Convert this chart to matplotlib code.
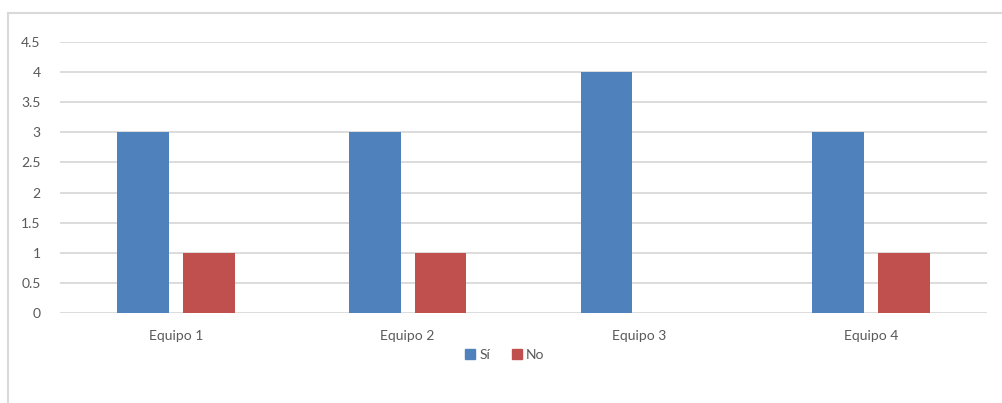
import matplotlib
matplotlib.use('Agg')
import matplotlib.pyplot as plt
from matplotlib.lines import Line2D
from matplotlib.patches import Patch
import numpy as np

categories = ['Equipo 1', 'Equipo 2', 'Equipo 3', 'Equipo 4']
si_values = [3, 3, 4, 3]
no_values = [1, 1, 0, 1]
yticks = [0, 0.5, 1, 1.5, 2, 2.5, 3, 3.5, 4, 4.5]
ytick_labels = ['0', '0.5', '1', '1.5', '2', '2.5', '3', '3.5', '4', '4.5']

blue = '#4F81BD'
red = '#C0504D'
grid = '#D9D9D9'
text = '#595959'

plt.rcParams['font.family'] = ['Lato', 'DejaVu Sans']

W, H = 1003, 403
fig = plt.figure(figsize=(W / 100, H / 100), dpi=100)
ax = fig.add_axes([60 / W, 90 / H, 927 / W, 271 / H])

x = np.arange(len(categories))
width = 0.224
ax.bar(x - 0.142, si_values, width, color=blue, label='Sí')
ax.bar(x + 0.142, no_values, width, color=red, label='No')

ax.set_xlim(-0.5, len(categories) - 0.5)
ax.set_ylim(0, 4.5)
ax.set_yticks(yticks)
ax.set_yticklabels(ytick_labels)
ax.set_xticks(x)
ax.set_xticklabels(categories)
ax.tick_params(length=0, labelsize=10, colors=text)
ax.tick_params(axis='y', pad=14)
ax.tick_params(axis='x', pad=12)
ax.yaxis.grid(True, color=grid, linewidth=1.3)
ax.set_axisbelow(True)
for s in ax.spines.values():
    s.set_visible(False)

# chart-area border (left and top edges visible)
fig.add_artist(Line2D([8 / W, 8 / W], [0, 1 - 13 / H], color=grid, linewidth=1.5))
fig.add_artist(Line2D([8 / W, 1], [1 - 13 / H, 1 - 13 / H], color=grid, linewidth=1.5))

handles = [Patch(color=blue), Patch(color=red)]
fig.legend(handles, ['Sí', 'No'], loc='center', bbox_to_anchor=(505 / W, 1 - 355 / H),
           ncol=2, frameon=False, fontsize=10, labelcolor=text,
           handlelength=0.7, handleheight=0.7, handletextpad=0.3, columnspacing=1.6)

fig.savefig('out.png', dpi=100)
